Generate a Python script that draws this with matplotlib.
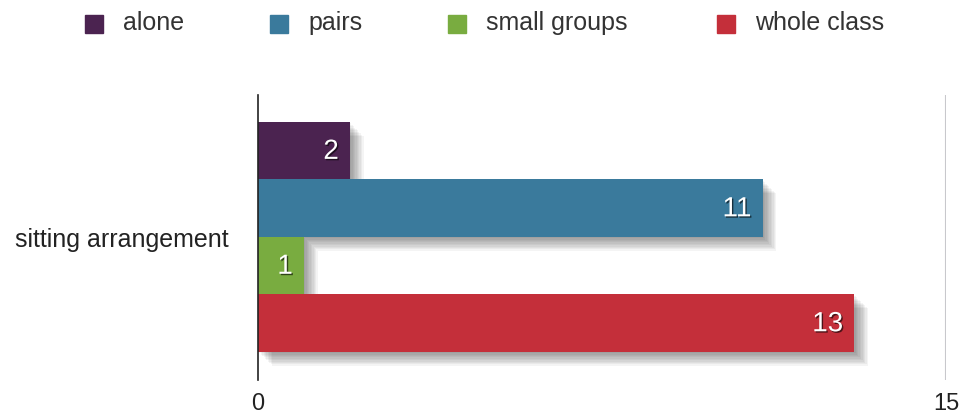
import matplotlib
matplotlib.use("Agg")
import matplotlib.pyplot as plt
import matplotlib.patheffects as pe
from matplotlib.patches import Rectangle

plt.rcParams["font.family"] = ["Liberation Sans", "DejaVu Sans"]

# Survey answers for one question
question = "sitting arrangement"
series = ["alone", "pairs", "small groups", "whole class"]
counts = [2, 11, 1, 13]
colors = ["#4b2350", "#3a7a9c", "#79ac40", "#c42f3a"]
x_ticks = [0, 15]

W, H = 962, 416
fig = plt.figure(figsize=(W / 100, H / 100), dpi=100)
ax = fig.add_axes([258 / W, 1 - 380 / H, (946 - 258) / W, (380 - 95) / H])

# soft drop shadow built from stacked offset copies
shadow = [pe.SimplePatchShadow(offset=(d, -d), shadow_rgbFace="black", alpha=0.045)
          for d in (1, 2, 3, 4, 5, 6, 7, 8, 9, 10)]
shadow.append(pe.Normal())

ypos = list(range(len(series)))
for y, v, c in zip(ypos, counts, colors):
    ax.barh(y, v, height=1.0, color=c, path_effects=shadow, zorder=3)
    ax.text(v - 0.24, y + 0.02, str(v), ha="right", va="center", color="white",
            fontsize=20, zorder=4,
            path_effects=[pe.withSimplePatchShadow(offset=(1, -1),
                                                   shadow_rgbFace="black", alpha=0.6)])

ax.set_xlim(0, 15)
ax.set_ylim(3.5 + 0.49, -0.5 - 0.47)

ax.axvline(15, color="#c8c8cc", lw=1.5, zorder=1)
for s in ["top", "right", "bottom"]:
    ax.spines[s].set_visible(False)
ax.spines["left"].set_color("#222222")
ax.spines["left"].set_linewidth(1.2)
ax.spines["left"].set_zorder(5)

ax.set_xticks(x_ticks)
ax.set_xticklabels([str(t) for t in x_ticks], fontsize=17, color="#222222")
ax.tick_params(axis="x", length=0, pad=9)
ax.set_yticks([])

fig.text(229 / W, 1 - 240 / H, question, ha="right", va="center",
         fontsize=18, color="#222222")

# legend row across the top
legend_x = [85, 270, 448, 717]
for lx, name, c in zip(legend_x, series, colors):
    fig.add_artist(Rectangle((lx / W, 1 - 33 / H), 18 / W, 18 / H,
                             transform=fig.transFigure, color=c))
    fig.text((lx + 38) / W, 1 - 23 / H, name, ha="left", va="center",
             fontsize=18, color="#333333")

fig.savefig("out.png", dpi=100)
